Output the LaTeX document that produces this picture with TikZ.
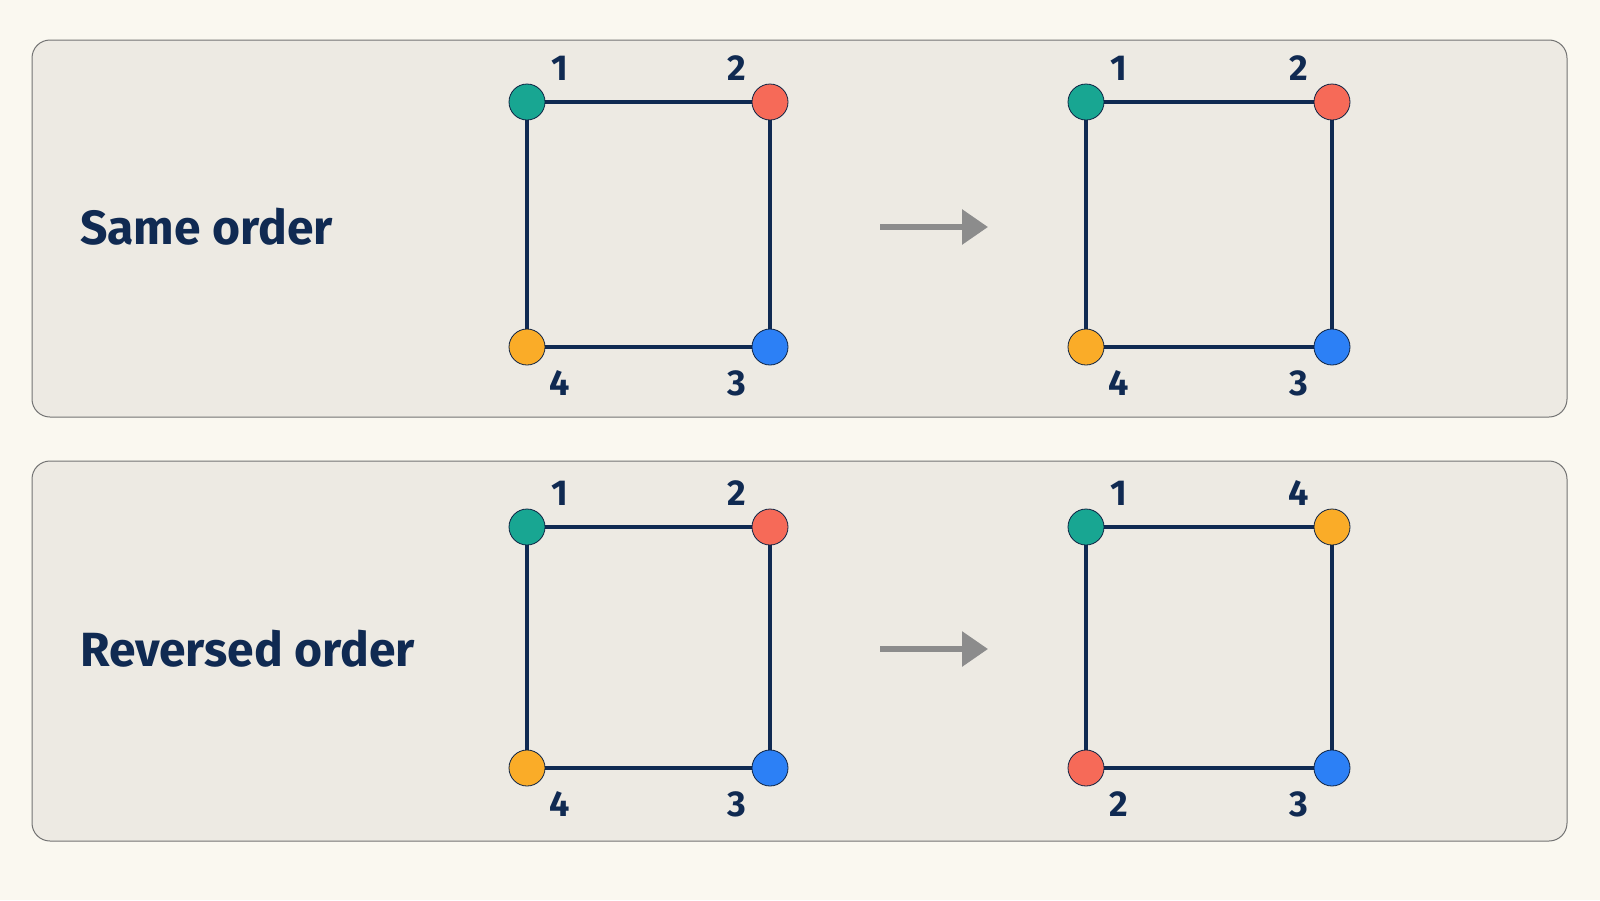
\documentclass[tikz,border=0pt]{standalone}
\usepackage{fontspec}
\setmainfont{Fira Sans}
\usepackage{tikz}
\usetikzlibrary{arrows.meta,backgrounds}

\definecolor{navy}{RGB}{16,42,82}
\definecolor{paper}{RGB}{250,248,240}
\definecolor{panelfill}{RGB}{237,234,227}
\definecolor{cteal}{RGB}{24,166,146}
\definecolor{cred}{RGB}{246,106,88}
\definecolor{corange}{RGB}{250,172,40}
\definecolor{cblue}{RGB}{44,128,246}

% #1 prefix, #2 x-left, #3 x-right, #4 y-top, #5 y-bottom, colours tl tr br bl
\newcommand\cornersq[9]{%
  \node[dot,fill=#6] (#1tl) at (#2,#4) {};
  \node[dot,fill=#7] (#1tr) at (#3,#4) {};
  \node[dot,fill=#8] (#1br) at (#3,#5) {};
  \node[dot,fill=#9] (#1bl) at (#2,#5) {};
}

\begin{document}
\begin{tikzpicture}[x=1pt,y=1pt,yscale=-1,xscale=1,
  panel/.style={draw=black!55,line width=1pt,fill=panelfill,rounded corners=18pt},
  dot/.style={circle,draw=navy!80!black,line width=0.8pt,minimum size=36pt,inner sep=0pt},
  edge/.style={navy,line width=4pt},
  num/.style={text=navy,font=\fontsize{36}{36}\selectfont\bfseries,inner sep=0pt},
  title/.style={text=navy,font=\fontsize{48}{48}\selectfont\bfseries,anchor=west,inner sep=0pt},
  flow/.style={draw=black!45,line width=6pt,-{Triangle[length=26pt,width=34pt]}}]
%set diagram to 1600 x 900
\useasboundingbox (0,0) rectangle (1600,900);

% Text Node
\node[title] (same) at (80,227) {Same order};
% Text Node
\node[title] (rev) at (80,649) {Reversed order};

%Corner dots
\cornersq{a}{527}{770}{102}{347}{cteal}{cred}{cblue}{corange}
\cornersq{b}{1086}{1332}{102}{347}{cteal}{cred}{cblue}{corange}
\cornersq{c}{527}{770}{527}{768}{cteal}{cred}{cblue}{corange}
\cornersq{d}{1086}{1332}{527}{768}{cteal}{corange}{cblue}{cred}

% Text Nodes: numbers
\foreach \p/\a/\b/\c/\d in {a/1/2/3/4, b/1/2/3/4, c/1/2/3/4, d/1/4/3/2}{
  \node[num] (\p n1) at ([xshift=33pt,yshift=-34pt]\p tl) {\a};
  \node[num] (\p n2) at ([xshift=-33pt,yshift=-34pt]\p tr) {\b};
  \node[num] (\p n3) at ([xshift=-33pt,yshift=36pt]\p br) {\c};
  \node[num] (\p n4) at ([xshift=33pt,yshift=36pt]\p bl) {\d};
}

%Arrows
\coordinate (s1) at (880,227);
\coordinate (e1) at (988,227);
\coordinate (s2) at (880,649);
\coordinate (e2) at (988,649);
\draw[flow] (s1) -- (e1);
\draw[flow] (s2) -- (e2);

\begin{pgfonlayer}{background}
\fill[paper] (0,0) rectangle (1600,900);
%Panels
\draw[panel] (32,40) rectangle (1567,417);
\draw[panel] (32,461) rectangle (1567,841);
%Square edges
\foreach \p in {a,b,c,d}{
  \draw[edge] (\p tl.center) -- (\p tr.center);
  \draw[edge] (\p tr.center) -- (\p br.center);
  \draw[edge] (\p br.center) -- (\p bl.center);
  \draw[edge] (\p bl.center) -- (\p tl.center);
}
\end{pgfonlayer}
\end{tikzpicture}
\end{document}
